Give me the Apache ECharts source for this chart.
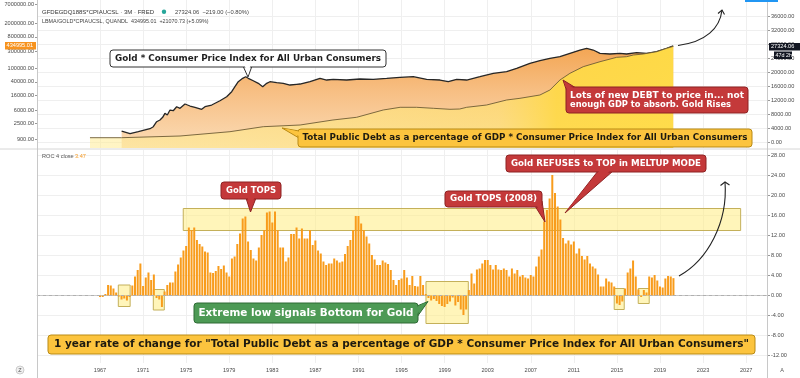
<!DOCTYPE html>
<html><head><meta charset="utf-8">
<script src="https://cdn.jsdelivr.net/npm/echarts@6/dist/echarts.min.js"></script>
<style>html,body{margin:0;padding:0;background:#fff}#c{width:800px;height:378px}</style>
</head><body><div id="c"></div>
<script>
// ---------------- DATA ----------------
const yearTicks = [1967,1971,1975,1979,1983,1987,1991,1995,1999,2003,2007,2011,2015,2019,2023,2027];
const debtTicks = [0,4000,8000,12000,16000,20000,24000,28000,32000,36000];
const goldTicks = [900,2500,6000,16000,40000,100000,300000,800000,2000000,7000000];
const rocTicks = [-12,-8,-4,0,4,8,12,16,20,24,28];

// Gold * CPI (left, log scale)
const goldYears = [1969.01,1969.79,1970.56,1971.64,1971.95,1972.26,1972.57,1972.82,1973.03,1973.25,1973.5,1973.8,1974.12,1974.43,1974.89,1975.36,1975.82,1976.44,1976.75,1977.37,1978.14,1978.76,1979.23,1979.53,1979.84,1980.25,1980.53,1980.77,1981.23,1981.7,1982.11,1982.48,1982.78,1983.41,1984.02,1984.64,1985.26,1985.57,1986.5,1987.43,1988.05,1988.66,1989.9,1991.14,1992.37,1993.62,1994.85,1996.09,1997.33,1998.57,1999.34,2000.12,2001.05,2002.28,2003.52,2004.76,2005.69,2006.92,2007.85,2008.78,2009.71,2010.64,2011.57,2012.19,2012.8,2013.43,2014.35,2015.28,2015.9,2016.83,2017.76,2018.69,2019.62,2020.23];
const goldValues = [1529,1278,1460,1781,2034,2837,3176,3799,4958,4428,6172,5891,7686,6909,9195,8051,7384,6466,7686,8604,11450,14935,20820,29010,40450,50700,56380,50700,43220,36370,29010,36370,40450,37840,36370,32490,34040,34720,40450,50700,45290,47440,45290,48400,47440,50700,54170,56380,47440,45290,40450,47440,45290,56380,70660,78600,98510,137300,163200,191400,212900,266900,332300,372000,332300,266900,254800,266900,254800,277700,266900,296800,372000,434995];

// Total Public Debt % GDP * CPI (right, linear)
const debtYears = [1966.07,1969.0,1974.43,1979.07,1982.16,1985.58,1988.63,1990.83,1993.3,1994.87,1996.4,1997.95,1999.5,2000.4,2001.05,2002.9,2004.76,2006.0,2007.85,2008.78,2009.71,2010.64,2011.87,2013.43,2014.98,2015.9,2016.52,2017.45,2018.69,2019.62,2020.23];
const debtValues = [1229,1229,1714,2943,4371,4857,6286,7057,9143,9914,9914,9628,9343,9428,9914,10571,12000,12486,13428,14857,17714,19628,21514,22943,24200,24371,24857,25143,25800,26771,27324];

// ROC(4) quarterly, starting 1967 Q1
const rocStartYear = 1967;
const rocValues = [
 -0.3,-0.3,0.3,2.1,  2.0,1.4,0.6,-0.2,  -0.8,-0.6,-1.0,-0.3,  2.0,3.8,5.1,6.4,
 1.9,3.6,4.6,3.1,  4.2,-0.5,-0.8,-2.3,  0.8,2.1,2.6,2.6,  4.8,6.2,7.6,9.0,
 9.9,13.6,13.1,13.6,  11.1,10.3,9.8,8.8,  8.6,4.6,4.5,4.9,  5.9,5.3,6.0,4.6,
 3.8,7.4,7.8,10.3,  12.4,15.4,15.8,10.8,  9.1,7.4,7.0,9.6,  12.1,13.1,16.6,16.8,
 14.6,16.8,13.1,9.6,  9.6,6.8,7.6,12.3,  12.3,13.6,11.4,13.4,  11.4,11.4,13.1,10.1,
 11.0,9.0,8.4,6.8,  6.1,6.4,6.4,7.4,  7.0,6.6,6.8,8.3,  9.9,11.1,13.1,15.9,
 15.9,14.4,13.1,11.8,  10.4,8.1,7.2,6.1,  6.1,7.0,6.6,6.3,  5.1,3.1,2.1,3.1,
 3.4,5.1,3.6,2.1,  3.9,1.9,1.8,3.9,  2.1,0.3,-0.5,-1.0,  -0.7,-1.1,-1.7,-2.1,
 -2.3,-1.7,-1.2,-0.4,  -2.0,-1.3,-2.8,-3.9,  -2.8,1.1,4.4,2.4,  5.2,5.4,6.4,7.1,
 7.1,6.1,5.2,6.1,  5.2,5.1,5.4,5.1,  3.8,5.4,4.4,5.1,  3.8,4.1,3.6,3.4,
 4.1,3.8,5.8,7.8,  9.2,14.8,17.1,19.4,  24.1,20.5,17.8,15.2,  11.5,10.4,11.0,10.2,
 10.8,8.4,9.4,7.9,  7.2,7.9,6.4,5.8,  5.4,4.2,1.8,1.8,  3.4,2.8,2.6,1.8,
 -1.6,-1.9,-1.2,1.4,  4.6,5.4,7.0,3.8,  1.2,-0.3,1.1,0.6,  3.8,3.6,4.1,3.0,
 1.8,1.6,3.4,3.9,  3.8,3.47
];

// highlight zones on the ROC pane: [yearFrom, yearTo, valueLow, valueHigh]
const rocZones = [
  [1974.73, 2026.49, 13.0, 17.4],
  [1968.7, 1969.8, -2.2, 2.1],
  [1971.95, 1972.97, -2.9, 1.2],
  [1997.27, 2001.2, -5.6, 2.8],
  [2014.75, 2015.68, -2.8, 1.4],
  [2016.98, 2018.0, -1.6, 1.4]
];

// ---------------- CHART ----------------
const X_MIN = 1961.15, X_MAX = 2029.03;
const FONT = '"DejaVu Sans", Verdana, sans-serif';
const AXF = '"Liberation Sans", Arial, sans-serif';
const chart = echarts.init(document.getElementById('c'), null, {renderer: 'canvas', width: 800, height: 378});

const mctx = document.createElement('canvas').getContext('2d');
function fitText(str, cx, cy, targetW, size, color, weight) {
  const font = (weight || 'bold') + ' ' + size + 'px ' + FONT;
  mctx.font = font;
  const w = mctx.measureText(str).width;
  return {type: 'text', x: cx, y: cy, scaleX: targetW / w, z: 100,
    style: {text: str, font: font, fill: color, align: 'center', verticalAlign: 'middle'}};
}
function callout(box, tail, inset, fill, stroke, texts) {
  const els = [];
  if (tail) els.push({type: 'polygon', z: 98, shape: {points: tail}, style: {fill: fill, stroke: stroke, lineWidth: 1}});
  els.push({type: 'rect', z: 99, shape: {x: box[0], y: box[1], width: box[2], height: box[3], r: 3}, style: {fill: fill, stroke: stroke, lineWidth: 1}});
  if (inset) els.push({type: 'polygon', z: 99, shape: {points: inset}, style: {fill: fill}});
  texts.forEach(t => els.push(t));
  return els;
}
function smallText(str, x, y, color, size, align) {
  return {type: 'text', x: x, y: y, z: 100, style: {text: str, font: (size || 5.6) + 'px ' + AXF, fill: color || '#444', align: align || 'left', verticalAlign: 'middle'}};
}

const RED = '#c4393a', RED_B = '#8e2323', YEL = '#fcc43e', YEL_B = '#b98a14', GRN = '#4d9a55', GRN_B = '#2f6b35';

let graphics = [];
graphics = graphics.concat(callout([110, 50, 276, 17], [[243, 66], [248, 77], [252, 66]], [[244.5, 65], [248, 75], [250.5, 65]], '#ffffff', '#333333',
  [fitText('Gold * Consumer Price Index for All Urban Consumers', 248, 58.5, 266, 9, '#1e1e1e')]));
graphics = graphics.concat(callout([298, 129, 454, 18], [[299, 131], [282, 128], [299, 138]], [[300, 132], [285, 128.6], [300, 136.5]], YEL, YEL_B,
  [fitText('Total Public Debt as a percentage of GDP * Consumer Price Index for All Urban Consumers', 525, 138, 445, 9, '#1d1a10')]));
graphics = graphics.concat(callout([566, 87, 182, 26], [[567, 92], [563, 80], [576, 88]], [[568, 92], [564, 82.5], [575, 89]], RED, RED_B,
  [fitText('Lots of new DEBT to price in... not', 657, 95.5, 174, 9, '#fff'),
   fitText('enough GDP to absorb. Gold Rises', 650.5, 105, 161, 9, '#fff')]));
graphics = graphics.concat(callout([221, 182, 60, 17], [[246, 198], [250.5, 212], [256, 198]], [[247.5, 197], [250.5, 209], [254.5, 197]], RED, RED_B,
  [fitText('Gold TOPS', 251, 190.5, 50, 9, '#fff')]));
graphics = graphics.concat(callout([445, 191, 97, 16], [[535, 206], [545, 222], [542, 201]], [[536.5, 205], [544, 218], [541, 202]], RED, RED_B,
  [fitText('Gold TOPS (2008)', 493.5, 199, 87, 9, '#fff')]));
graphics = graphics.concat(callout([506, 155, 200, 17], [[598, 171], [565, 213], [613, 171]], [[600, 170], [567, 210], [611, 170]], RED, RED_B,
  [fitText('Gold REFUSES to TOP in MELTUP MODE', 606, 163.5, 190, 9, '#fff')]));
graphics = graphics.concat(callout([194, 303, 224, 20], [[417, 306], [428, 301.5], [417, 317]], [[416, 307.5], [425.5, 302.5], [416, 315.5]], GRN, GRN_B,
  [fitText('Extreme low signals Bottom for Gold', 306, 313, 215, 10, '#fff')]));
graphics = graphics.concat(callout([48, 335, 707, 19], null, null, YEL, YEL_B,
  [fitText('1 year rate of change for "Total Public Debt as a percentage of GDP * Consumer Price Index for All Urban Consumers"', 401.5, 344.5, 695, 10, '#1d1a10')]));

// arrows
graphics.push({type: 'bezierCurve', z: 97, shape: {x1: 678, y1: 45.5, cpx1: 706, cpy1: 42, cpx2: 720, cpy2: 28, x2: 722, y2: 10}, style: {stroke: '#222', lineWidth: 1.1, fill: null}});
graphics.push({type: 'polyline', z: 97, shape: {points: [[718, 13.5], [722, 10], [724.5, 14.5]]}, style: {stroke: '#222', lineWidth: 1.1, fill: null}});
graphics.push({type: 'bezierCurve', z: 97, shape: {x1: 679, y1: 276, cpx1: 708, cpy1: 260, cpx2: 728, cpy2: 222, x2: 725, y2: 182}, style: {stroke: '#222', lineWidth: 1.1, fill: null}});
graphics.push({type: 'polyline', z: 97, shape: {points: [[720.5, 185.5], [725, 182], [729.5, 185]]}, style: {stroke: '#222', lineWidth: 1.1, fill: null}});

// header texts
graphics.push(smallText('GFDEGDQ188S*CPIAUCSL · 3M · FRED', 42, 12, '#333', 6));
graphics.push({type: 'circle', z: 100, shape: {cx: 164, cy: 11.8, r: 2.2}, style: {fill: '#26a69a'}});
graphics.push(smallText('27324.06  −219.00 (−0.80%)', 175, 12, '#444', 5.8));
graphics.push(smallText('LBMA/GOLD*CPIAUCSL, QUANDL  434995.01  +21070.73 (+5.09%)', 42, 22, '#444', 5.4));
graphics.push(smallText('ROC 4 close', 42, 156.5, '#555', 5.6));
graphics.push(smallText('3.47', 75, 156.5, '#f59a23', 5.6));
// price tags
graphics.push({type: 'rect', z: 100, shape: {x: 5, y: 42, width: 31, height: 7.5}, style: {fill: '#f7931e'}});
graphics.push(smallText('434995.01', 33, 45.8, '#fff', 5.6, 'right'));
graphics.push({type: 'rect', z: 100, shape: {x: 769, y: 43, width: 31, height: 7.5}, style: {fill: '#131722'}});
graphics.push(smallText('27324.06', 771, 46.8, '#fff', 5.6));
graphics.push({type: 'rect', z: 100, shape: {x: 774, y: 51.5, width: 18, height: 7.5}, style: {fill: '#131722'}});
graphics.push(smallText('47d 2h', 775.5, 55.3, '#fff', 5.4));
// frame details
graphics.push({type: 'rect', z: 100, shape: {x: 745, y: 0, width: 33, height: 2}, style: {fill: '#2196f3'}});
graphics.push({type: 'line', z: 50, shape: {x1: 0, y1: 149, x2: 800, y2: 149}, style: {stroke: '#d6d6d6', lineWidth: 1}});
graphics.push({type: 'line', z: 50, shape: {x1: 37.5, y1: 0, x2: 37.5, y2: 378}, style: {stroke: '#c8c8c8', lineWidth: 1}});
graphics.push({type: 'line', z: 50, shape: {x1: 767.5, y1: 0, x2: 767.5, y2: 378}, style: {stroke: '#c8c8c8', lineWidth: 1}});
graphics.push({type: 'circle', z: 100, shape: {cx: 20, cy: 370, r: 4}, style: {fill: '#f0f0f0', stroke: '#ccc'}});
graphics.push(smallText('Z', 20, 370, '#555', 5.5, 'center'));
graphics.push(smallText('A', 782, 370, '#555', 5.5, 'center'));

const goldData = goldYears.map((y, i) => [y, goldValues[i]]);
const debtData = debtYears.map((y, i) => [y, debtValues[i]]);
const rocData = rocValues.map((v, i) => [rocStartYear + i / 4, v]);

const axisLabelStyle = {fontSize: 5.6, color: '#4a4a4a', fontFamily: AXF};
const option = {
  animation: false,
  backgroundColor: '#ffffff',
  grid: [
    {left: 37, right: 32, top: 0, height: 148},
    {left: 37, right: 32, top: 150, height: 213}
  ],
  xAxis: [
    {gridIndex: 0, type: 'value', min: X_MIN, max: X_MAX,
     axisLine: {show: false}, axisTick: {show: false, customValues: yearTicks},
     axisLabel: {show: false, customValues: yearTicks},
     splitLine: {show: true, lineStyle: {color: '#efefef', width: 1}}},
    {gridIndex: 1, type: 'value', min: X_MIN, max: X_MAX,
     axisLine: {show: true, lineStyle: {color: '#c8c8c8'}}, axisTick: {show: false, customValues: yearTicks},
     axisLabel: Object.assign({show: true, customValues: yearTicks, margin: 4, formatter: v => String(Math.round(v))}, axisLabelStyle),
     splitLine: {show: true, lineStyle: {color: '#efefef', width: 1}}}
  ],
  yAxis: [
    {gridIndex: 0, type: 'log', position: 'left', min: 494.9, max: 9214800,
     axisLine: {show: false}, axisTick: {show: true, length: 2, lineStyle: {color: '#999'}, customValues: goldTicks},
     axisLabel: Object.assign({customValues: goldTicks, margin: 3, formatter: v => Number(v).toFixed(2)}, axisLabelStyle),
     splitLine: {show: false}},
    {gridIndex: 0, type: 'value', position: 'right', min: -1714.29, max: 40571.43,
     axisLine: {show: false}, axisTick: {show: true, length: 2, lineStyle: {color: '#999'}, customValues: debtTicks},
     axisLabel: Object.assign({customValues: debtTicks, margin: 3, formatter: v => Number(v).toFixed(2)}, axisLabelStyle),
     splitLine: {show: true, lineStyle: {color: '#efefef'}}},
    {gridIndex: 1, type: 'value', position: 'right', min: -13.5, max: 29.1,
     axisLine: {show: false}, axisTick: {show: true, length: 2, lineStyle: {color: '#999'}, customValues: rocTicks},
     axisLabel: Object.assign({customValues: rocTicks, margin: 3, formatter: v => Number(v).toFixed(2)}, axisLabelStyle),
     splitLine: {show: true, lineStyle: {color: '#efefef'}}}
  ],
  series: [
    {name: 'Gold*CPI', type: 'line', xAxisIndex: 0, yAxisIndex: 0, data: goldData, symbol: 'none', z: 2,
     lineStyle: {color: '#262626', width: 1.3},
     areaStyle: {origin: 'start', opacity: 1, color: {type: 'linear', x: 0, y: 0, x2: 0, y2: 1,
       colorStops: [{offset: 0, color: '#f3a552'}, {offset: 0.45, color: '#f7bf84'}, {offset: 1, color: '#fbdcb6'}]}}},
    {name: 'Debt%GDP*CPI', type: 'line', xAxisIndex: 0, yAxisIndex: 1, data: debtData, symbol: 'none', z: 3,
     lineStyle: {color: '#6e5c34', width: 0.9},
     areaStyle: {origin: 'start', opacity: 1, color: {type: 'linear', x: 0, y: 0, x2: 1, y2: 0,
       colorStops: [{offset: 0, color: 'rgba(255,236,150,0.55)'}, {offset: 0.7, color: 'rgba(255,228,110,0.6)'},
                    {offset: 0.8, color: 'rgba(255,218,70,0.9)'}, {offset: 1, color: 'rgba(255,220,70,0.95)'}]}}},
    {name: 'ROC', type: 'bar', xAxisIndex: 1, yAxisIndex: 2, data: rocData, barWidth: 2, z: 3,
     itemStyle: {color: '#f89c1c'},
     markLine: {silent: true, symbol: 'none', label: {show: false},
       lineStyle: {color: '#b0b0b0', type: [3, 3], width: 1}, data: [{yAxis: 0}]},
     markArea: {silent: true, itemStyle: {color: 'rgba(255,236,130,0.55)', borderColor: '#c4b05a', borderWidth: 1},
       data: rocZones.map(z => [{coord: [z[0], z[3]]}, {coord: [z[1], z[2]]}])}}
  ],
  graphic: graphics
};
chart.setOption(option);
</script>
</body></html>
